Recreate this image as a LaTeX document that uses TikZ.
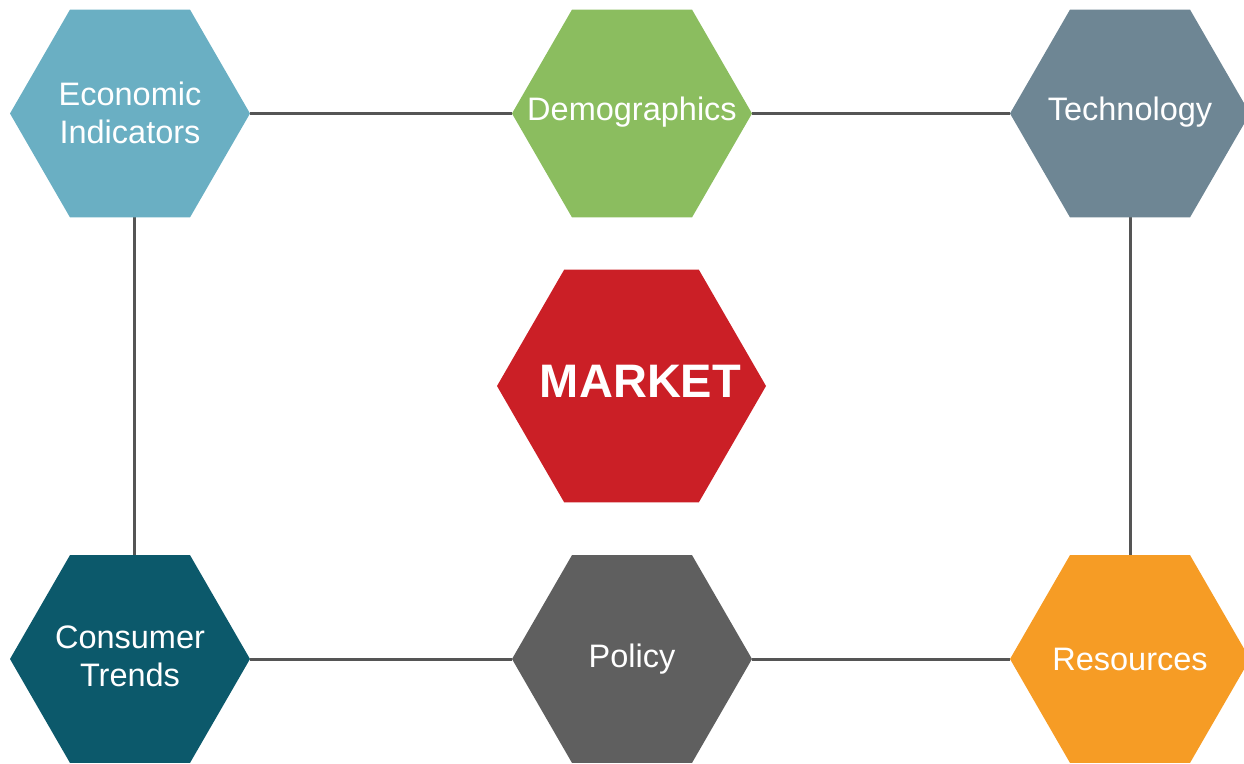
\documentclass[tikz,border=0pt]{standalone}
\usepackage{fontspec}
\setmainfont{Liberation Sans}
\usetikzlibrary{shapes.geometric}
\definecolor{cEcon}{HTML}{6AAFC3}
\definecolor{cDemo}{HTML}{8BBD5F}
\definecolor{cTech}{HTML}{6E8694}
\definecolor{cMarket}{HTML}{CB1F26}
\definecolor{cCons}{HTML}{0C596B}
\definecolor{cPolicy}{HTML}{5F5F5F}
\definecolor{cRes}{HTML}{F69C25}
\definecolor{cLine}{HTML}{555555}
\tikzset{
  hexbox/.style={regular polygon, regular polygon sides=6, inner sep=0pt, outer sep=0pt, draw=none, minimum size=240pt},
  lbl/.style={text=white, align=center, font=\fontsize{32.5}{38}\selectfont, inner sep=0pt},
  conn/.style={draw=cLine, line width=3pt}
}
\begin{document}
\begin{tikzpicture}[x=1pt,y=1pt]
\useasboundingbox (0,0) rectangle (1244,-763);
% anchor nodes
\node[hexbox] (econ) at (130,-113.5) {};
\node[hexbox] (demo) at (632,-113.5) {};
\node[hexbox] (tech) at (1130,-113.5) {};
\node[hexbox] (cons) at (130,-659) {};
\node[hexbox] (policy) at (632,-659) {};
\node[hexbox] (res) at (1130,-659) {};
\node[hexbox, minimum size=269pt] (market) at (631.5,-386) {};
% connectors (behind)
\draw[conn] (econ.east) -- (demo.west);
\draw[conn] (demo.east) -- (tech.west);
\draw[conn] ([xshift=4pt]econ.south) -- ([xshift=4pt]cons.north);
\draw[conn] (tech.south) -- (res.north);
\draw[conn] (cons.east) -- (policy.west);
\draw[conn] (policy.east) -- (res.west);
% shapes
\node[hexbox, fill=cEcon] at (econ) {};
\node[hexbox, fill=cDemo] at (demo) {};
\node[hexbox, fill=cTech] at (tech) {};
\node[hexbox, fill=cCons] at (cons) {};
\node[hexbox, fill=cPolicy] at (policy) {};
\node[hexbox, fill=cRes] at (res) {};
\node[hexbox, minimum size=269pt, fill=cMarket] at (market) {};
% labels
\node[lbl] (tEcon) at ([yshift=1pt]econ.center) {Economic\\Indicators};
\node[lbl] (tDemo) at ([yshift=1pt]demo.center) {Demographics};
\node[lbl] (tTech) at ([yshift=1pt]tech.center) {Technology};
\node[lbl] (tCons) at ([yshift=3pt]cons.center) {Consumer\\Trends};
\node[lbl] (tPolicy) at ([yshift=0pt]policy.center) {Policy};
\node[lbl] (tRes) at ([yshift=0pt]res.center) {Resources};
\node[lbl, font=\fontsize{47}{56}\selectfont\bfseries] (tMarket) at ([xshift=9pt,yshift=5pt]market.center) {MARKET};
\end{tikzpicture}
\end{document}
